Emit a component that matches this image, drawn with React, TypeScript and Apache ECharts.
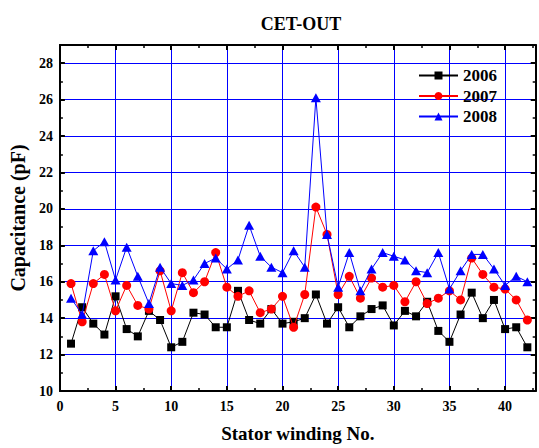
import React, { useEffect, useRef } from "react";
import * as echarts from "echarts";

const windings: number[] = [1,2,3,4,5,6,7,8,9,10,11,12,13,14,15,16,17,18,19,20,21,22,23,24,25,26,27,28,29,30,31,32,33,34,35,36,37,38,39,40,41,42];

const s2006: number[] = [12.6,14.6,13.7,13.1,15.2,13.4,13.0,14.4,13.9,12.4,12.7,14.3,14.2,13.5,13.5,15.5,13.9,13.7,14.5,13.7,13.8,14.0,15.3,13.7,14.6,13.5,14.1,14.5,14.7,13.6,14.4,14.1,14.9,13.3,12.7,14.2,15.4,14.0,15.0,13.4,13.5,12.4];

const s2007: number[] = [15.9,13.8,15.9,16.4,14.4,15.8,14.7,14.5,16.6,14.4,16.5,15.4,16.0,17.6,15.7,15.2,15.5,14.3,14.5,15.2,13.5,15.3,20.1,18.6,15.3,16.3,15.1,16.2,15.7,15.8,14.9,16.0,14.8,15.1,15.5,15.0,17.3,16.4,15.7,15.6,15.0,13.9];

const s2008: number[] = [15.1,14.2,17.7,18.2,16.1,17.9,16.3,14.8,16.8,15.9,15.8,16.1,17.0,17.3,16.7,17.2,19.1,17.4,16.8,16.5,17.7,16.8,26.1,18.6,15.7,17.6,15.5,16.7,17.6,17.4,17.2,16.6,16.5,17.6,15.6,16.6,17.5,17.5,16.7,15.8,16.3,16.0];

const seriesNames: string[] = ["2006", "2007", "2008"];
const xTitle = "Stator winding No.";
const yTitle = "Capacitance (pF)";
const chartTitle = "CET-OUT";

const FONT = "Liberation Serif";

export default function App() {
  const ref = useRef<HTMLDivElement>(null);
  useEffect(() => {
    if (!ref.current) return;
    const chart = echarts.init(ref.current, null, { renderer: "svg" });
    const pair = (arr: number[]) => windings.map((w, i) => [w, arr[i]]);
    const axisLine = { show: true, onZero: false, lineStyle: { color: "#000", width: 2 } };
    const tick = { show: true, inside: true, length: 5, lineStyle: { color: "#000", width: 2 } };
    const minor = { show: true, splitNumber: 2, length: 3, lineStyle: { color: "#000", width: 1.5 } };
    const labelStyle = { fontFamily: FONT, fontWeight: "bold" as const, fontSize: 14, color: "#000" };
    chart.setOption({
      animation: false,
      backgroundColor: "#fff",
      title: {
        text: chartTitle,
        left: 296,
        textAlign: "center",
        top: 10,
        textStyle: { fontFamily: FONT, fontWeight: "bold", fontSize: 18, color: "#000" },
      },
      legend: {
        orient: "vertical",
        left: 418,
        top: 67,
        padding: 0,
        itemWidth: 39,
        itemHeight: 10,
        itemGap: 3.5,
        data: seriesNames,
        textStyle: { fontFamily: FONT, fontWeight: "bold", fontSize: 17, color: "#000", lineHeight: 17 },
      },
      grid: { left: 56, right: 3.3, top: 45, bottom: 53, containLabel: false },
      xAxis: [
        {
          type: "value",
          min: 0,
          max: 42.75,
          interval: 5,
          position: "bottom",
          name: xTitle,
          nameLocation: "middle",
          nameGap: 33,
          nameTextStyle: { fontFamily: FONT, fontWeight: "bold", fontSize: 19, color: "#000" },
          axisLine,
          axisTick: tick,
          minorTick: minor,
          splitLine: { show: true, lineStyle: { color: "#0000ff", width: 1 } },
          axisLabel: { ...labelStyle, margin: 8, formatter: (v: number) => (v % 5 === 0 ? String(v) : "") },
        },
        {
          type: "value",
          min: 0,
          max: 42.75,
          interval: 5,
          position: "top",
          axisLine,
          axisTick: tick,
          minorTick: minor,
          splitLine: { show: false },
          axisLabel: { show: false },
        },
      ],
      yAxis: [
        {
          type: "value",
          min: 10,
          max: 29,
          interval: 2,
          position: "left",
          name: yTitle,
          nameLocation: "middle",
          nameGap: 29,
          nameRotate: 90,
          nameTextStyle: { fontFamily: FONT, fontWeight: "bold", fontSize: 20, color: "#000" },
          axisLine,
          axisTick: tick,
          minorTick: minor,
          splitLine: { show: true, lineStyle: { color: "#0000ff", width: 1 } },
          axisLabel: { ...labelStyle, margin: 7, formatter: (v: number) => (v % 2 === 0 ? String(v) : "") },
        },
        {
          type: "value",
          min: 10,
          max: 29,
          interval: 2,
          position: "right",
          axisLine,
          axisTick: tick,
          minorTick: minor,
          splitLine: { show: false },
          axisLabel: { show: false },
        },
      ],
      series: [
        {
          name: seriesNames[0],
          type: "line",
          data: pair(s2006),
          symbol: "rect",
          symbolSize: 8,
          itemStyle: { color: "#000" },
          lineStyle: { color: "#000", width: 1 },
          z: 2,
        },
        {
          name: seriesNames[1],
          type: "line",
          data: pair(s2007),
          symbol: "circle",
          symbolSize: 9,
          itemStyle: { color: "#ff0000" },
          lineStyle: { color: "#ff0000", width: 1 },
          z: 3,
        },
        {
          name: seriesNames[2],
          type: "line",
          data: pair(s2008),
          symbol: "triangle",
          symbolSize: [10, 9],
          itemStyle: { color: "#0000ff" },
          lineStyle: { color: "#0000ff", width: 1 },
          z: 4,
        },
      ],
    });
    return () => chart.dispose();
  }, []);
  return <div ref={ref} style={{ width: 539, height: 448, position: "absolute", left: 0, top: 0 }} />;
}
